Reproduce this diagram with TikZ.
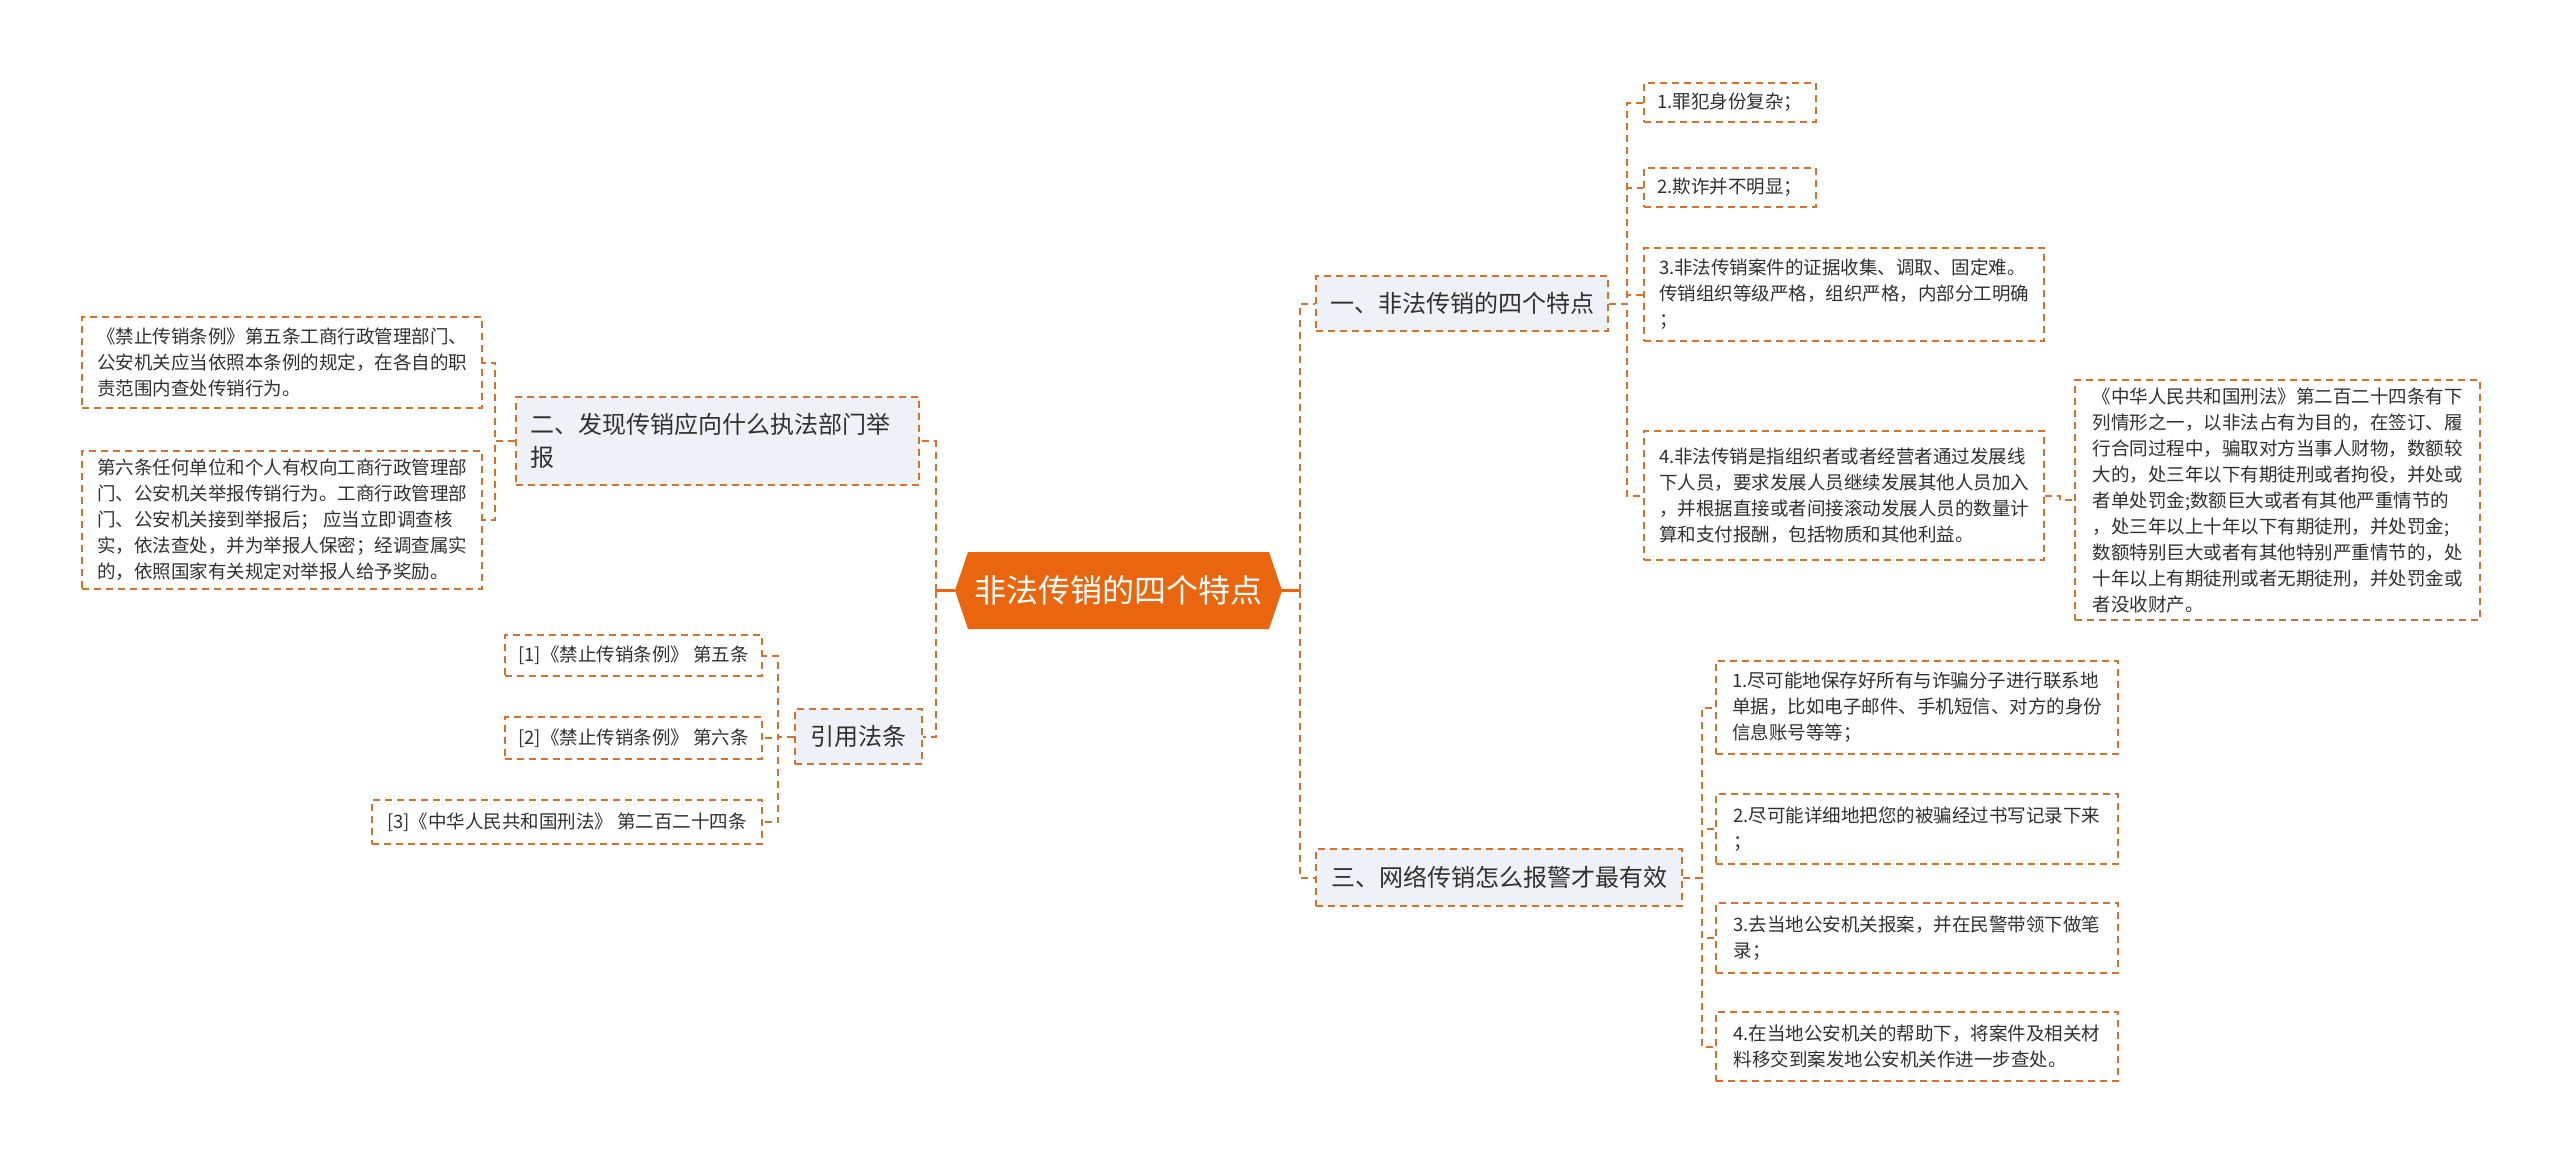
\documentclass[tikz,border=0pt]{standalone}
\usepackage{fontspec}
\newfontfamily\cjk{Noto Sans CJK SC}
\usetikzlibrary{calc}
\definecolor{oc}{RGB}{210,114,44}
\definecolor{cfill}{RGB}{234,102,14}
\definecolor{bfill}{RGB}{238,241,245}
\definecolor{tc}{RGB}{48,48,48}
\tikzset{
  conn/.style={draw=oc, line width=2pt, dash pattern=on 7pt off 5pt},
  solidconn/.style={draw=cfill, line width=2.5pt},
  leaf/.style={draw=oc, line width=2pt, dash pattern=on 7pt off 5pt, fill=white,
    font=\cjk\fontsize{18.5pt}{26pt}\selectfont, text=tc, align=left, inner xsep=8pt, inner ysep=3pt},
  branch/.style={draw=oc, line width=2pt, dash pattern=on 7pt off 5pt, fill=bfill,
    font=\cjk\fontsize{24pt}{33pt}\selectfont, text=tc, align=left, inner xsep=13pt, inner ysep=3pt},
}
\begin{document}
\begin{tikzpicture}[x=1pt,y=-1pt]
\fill[white] (0,0) rectangle (2560,1162);
\useasboundingbox (0,0) rectangle (2560,1162);

% centre
\fill[cfill] (955,590.5) -- (968,552) -- (1269,552) -- (1282,590.5) -- (1269,629) -- (968,629) -- cycle;
\node[minimum width=327pt, minimum height=77pt, inner sep=0pt, text=white, font=\cjk\fontsize{32pt}{38pt}\selectfont] (c) at (1118.5,590.5) {非法传销的四个特点};

% left side
\node[branch, minimum width=403pt, minimum height=88pt, text width=375pt] (b2) at (717.5,441) {二、发现传销应向什么执法部门举\\报};
\node[leaf, minimum width=400pt, minimum height=91pt] (l1) at (282,362.5) {《禁止传销条例》第五条工商行政管理部门、\\公安机关应当依照本条例的规定，在各自的职\\责范围内查处传销行为。};
\node[leaf, minimum width=400pt, minimum height=138pt] (l2) at (282,520) {第六条任何单位和个人有权向工商行政管理部\\门、公安机关举报传销行为。工商行政管理部\\门、公安机关接到举报后； 应当立即调查核\\实，依法查处，并为举报人保密；经调查属实\\的，依照国家有关规定对举报人给予奖励。};

\node[branch, minimum width=127pt, minimum height=55pt] (cite) at (858.5,736.5) {引用法条};
\node[leaf, minimum width=257pt, minimum height=41pt] (q1) at (633.5,655.5) {[1]《禁止传销条例》 第五条};
\node[leaf, minimum width=257pt, minimum height=42pt] (q2) at (633.5,738) {[2]《禁止传销条例》 第六条};
\node[leaf, minimum width=390pt, minimum height=44pt] (q3) at (567,822) {[3]《中华人民共和国刑法》 第二百二十四条};

% right side
\node[branch, minimum width=292pt, minimum height=55pt] (b1) at (1462,303.5) {一、非法传销的四个特点};
\node[leaf, minimum width=172pt, minimum height=39pt] (r1) at (1730,102.5) {1.罪犯身份复杂；};
\node[leaf, minimum width=172pt, minimum height=39pt] (r2) at (1730,187.5) {2.欺诈并不明显；};
\node[leaf, minimum width=400pt, minimum height=93pt] (r3) at (1844,294.5) {3.非法传销案件的证据收集、调取、固定难。\\传销组织等级严格，组织严格，内部分工明确\\；};
\node[leaf, minimum width=400pt, minimum height=129pt] (r4) at (1844,495.5) {4.非法传销是指组织者或者经营者通过发展线\\下人员，要求发展人员继续发展其他人员加入\\，并根据直接或者间接滚动发展人员的数量计\\算和支付报酬，包括物质和其他利益。};
\node[leaf, minimum width=405pt, minimum height=240pt] (r5) at (2277.5,500) {《中华人民共和国刑法》第二百二十四条有下\\列情形之一，以非法占有为目的，在签订、履\\行合同过程中，骗取对方当事人财物，数额较\\大的，处三年以下有期徒刑或者拘役，并处或\\者单处罚金;数额巨大或者有其他严重情节的\\，处三年以上十年以下有期徒刑，并处罚金;\\数额特别巨大或者有其他特别严重情节的，处\\十年以上有期徒刑或者无期徒刑，并处罚金或\\者没收财产。};

\node[branch, minimum width=366pt, minimum height=57pt] (b3) at (1499,877.5) {三、网络传销怎么报警才最有效};
\node[leaf, minimum width=402pt, minimum height=93pt] (s1) at (1917,707.5) {1.尽可能地保存好所有与诈骗分子进行联系地\\单据，比如电子邮件、手机短信、对方的身份\\信息账号等等；};
\node[leaf, minimum width=402pt, minimum height=70pt] (s2) at (1917,829) {2.尽可能详细地把您的被骗经过书写记录下来\\；};
\node[leaf, minimum width=402pt, minimum height=70pt] (s3) at (1917,938) {3.去当地公安机关报案，并在民警带领下做笔\\录；};
\node[leaf, minimum width=402pt, minimum height=69pt] (s4) at (1917,1046.5) {4.在当地公安机关的帮助下，将案件及相关材\\料移交到案发地公安机关作进一步查处。};

% connectors
\coordinate (tl) at ($(c.west)+(-19pt,0)$);
\coordinate (tr) at ($(c.east)+(18pt,0)$);
\draw[solidconn] (c.west) -- (tl);
\draw[solidconn] (c.east) -- (tr);
\draw[conn] (tl) |- (b2.east);
\draw[conn] (tl) |- (cite.east);
\draw[conn] (b2.west) -- ++(-20,0) |- (l1.east);
\draw[conn] (b2.west) -- ++(-20,0) |- (l2.east);
\draw[conn] (cite.west) -- ++(-16,0) |- (q1.east);
\draw[conn] (cite.west) -- ++(-16,0) |- (q2.east);
\draw[conn] (cite.west) -- ++(-16,0) |- (q3.east);

\draw[conn] (tr) |- (b1.west);
\draw[conn] (tr) |- (b3.west);
\draw[conn] (b1.east) -- ++(18,0) |- (r1.west);
\draw[conn] (b1.east) -- ++(18,0) |- (r2.west);
\draw[conn] (b1.east) -- ++(18,0) |- (r3.west);
\draw[conn] (b1.east) -- ++(18,0) |- (r4.west);
\draw[conn] (r4.east) -- ++(15,0) |- (r5.west);
\draw[conn] (b3.east) -- ++(19,0) |- (s1.west);
\draw[conn] (b3.east) -- ++(19,0) |- (s2.west);
\draw[conn] (b3.east) -- ++(19,0) |- (s3.west);
\draw[conn] (b3.east) -- ++(19,0) |- (s4.west);
\end{tikzpicture}
\end{document}
